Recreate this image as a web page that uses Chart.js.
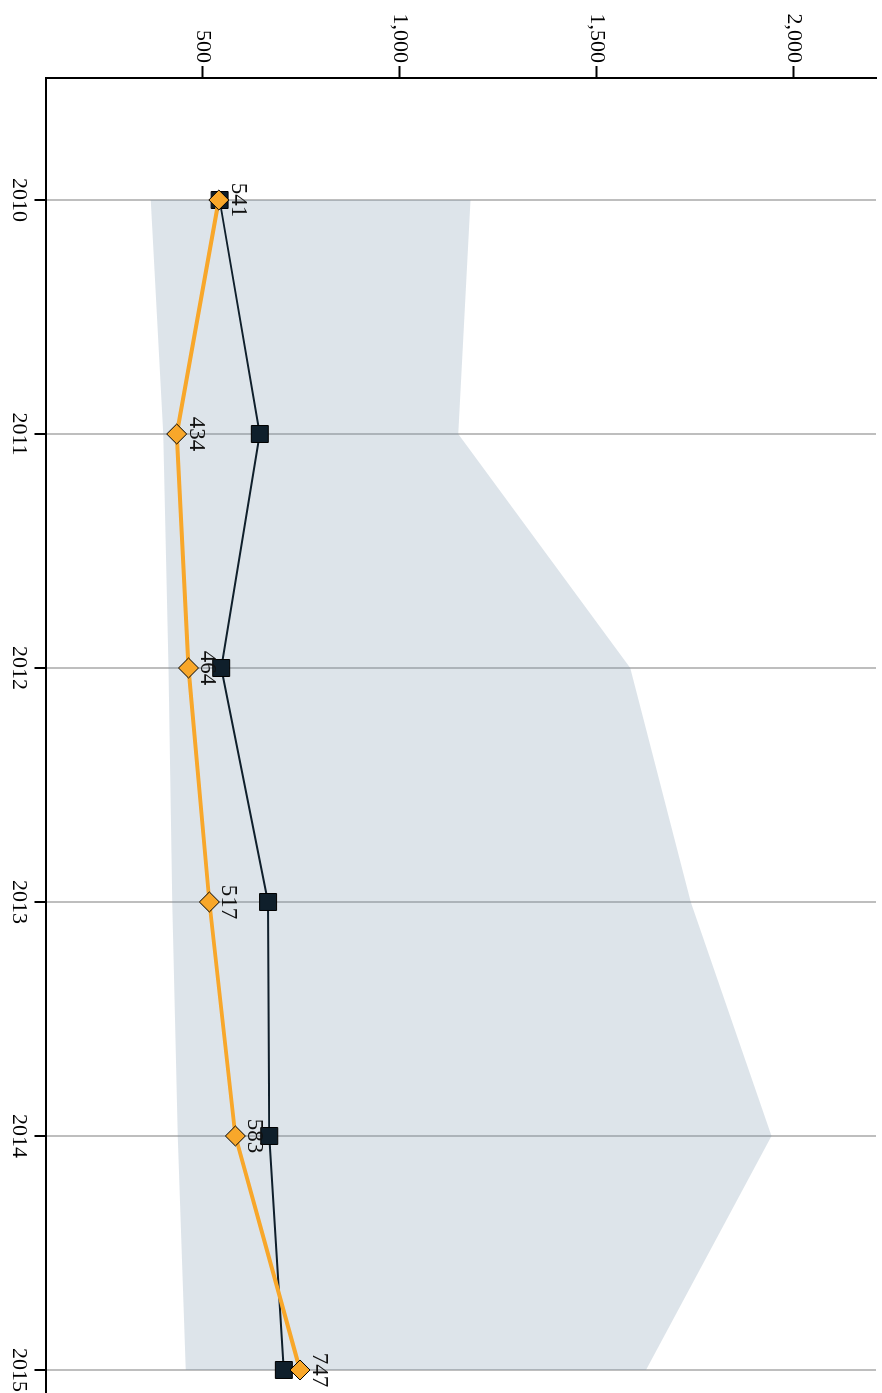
<!DOCTYPE html>
<html>
<head>
<meta charset="utf-8">
<script src="https://cdn.jsdelivr.net/npm/chart.js@4/dist/chart.umd.min.js"></script>
<style>
  html, body { margin: 0; padding: 0; background: #fff; overflow: hidden; }
  #wrap { position: relative; width: 882px; height: 1393px; overflow: hidden; }
  /* chart is drawn landscape and turned a quarter clockwise */
  #chart { position: absolute; left: 0; top: 0; transform-origin: 0 0; transform: translate(920px, 0) rotate(90deg); }
</style>
</head>
<body>
<div id="wrap"><canvas id="chart" width="1460" height="920"></canvas></div>
<script>
const years = [2010, 2011, 2012, 2013, 2014, 2015];
const observed = [541, 434, 464, 517, 583, 747];
const predicted = [543, 645, 547, 666, 669, 706];
const rangeLow = [368, 400, 413, 423, 437, 457];
const rangeHigh = [1180, 1149, 1585, 1739, 1944, 1625];
const valueTicks = [500, 1000, 1500, 2000];

const toXY = vals => years.map((yr, i) => ({ x: yr, y: vals[i] }));

const orange = '#f8a72a';
const navy = '#0f1f2b';

Chart.defaults.font.family = '"Liberation Serif", "Times New Roman", serif';
Chart.defaults.font.size = 22;
Chart.defaults.color = '#000';

// value labels next to the orange points
const pointLabels = {
  id: 'pointLabels',
  afterDatasetsDraw(chart) {
    const meta = chart.getDatasetMeta(3);
    const ctx = chart.ctx;
    ctx.save();
    ctx.font = '23px "Liberation Serif", serif';
    ctx.fillStyle = '#111';
    ctx.textAlign = 'center';
    ctx.textBaseline = 'alphabetic';
    meta.data.forEach((pt, i) => ctx.fillText(String(observed[i]), pt.x, pt.y - 13));
    ctx.restore();
  }
};

new Chart(document.getElementById('chart'), {
  type: 'line',
  data: {
    datasets: [
      {
        data: toXY(rangeLow),
        borderWidth: 0,
        pointRadius: 0,
        fill: false,
        order: 4
      },
      {
        data: toXY(rangeHigh),
        borderWidth: 0,
        pointRadius: 0,
        fill: '-1',
        backgroundColor: 'rgba(119,147,171,0.25)',
        order: 3
      },
      {
        data: toXY(predicted),
        borderColor: navy,
        borderWidth: 2,
        pointStyle: 'rect',
        pointRadius: 12,
        pointBackgroundColor: navy,
        pointBorderColor: '#000',
        pointBorderWidth: 1,
        fill: false,
        order: 2
      },
      {
        data: toXY(observed),
        borderColor: orange,
        borderWidth: 4,
        pointStyle: 'rectRot',
        pointRadius: 10,
        pointBackgroundColor: orange,
        pointBorderColor: '#000',
        pointBorderWidth: 1,
        fill: false,
        order: 1
      }
    ]
  },
  options: {
    responsive: false,
    devicePixelRatio: 1,
    animation: false,
    locale: 'en-US',
    layout: { padding: { top: 44, right: 40, left: 0, bottom: 0 } },
    elements: { line: { tension: 0 } },
    plugins: {
      legend: { display: false },
      tooltip: { enabled: false }
    },
    scales: {
      x: {
        type: 'linear',
        min: 2009.4786,
        max: 2015.2137,
        afterBuildTicks: s => { s.ticks = years.map(v => ({ value: v })); },
        afterFit: s => { s.height = 46.5; },
        ticks: { callback: v => String(v), padding: 3, color: '#000' },
        grid: { color: '#bebebe', lineWidth: 2, tickColor: '#000', tickWidth: 2, tickLength: 12 },
        border: { color: '#000', width: 2 }
      },
      y: {
        type: 'linear',
        min: 103.6,
        max: 2209,
        afterBuildTicks: s => { s.ticks = valueTicks.map(v => ({ value: v })); },
        afterFit: s => { s.width = 78; },
        ticks: { padding: 3, color: '#000' },
        grid: { drawOnChartArea: false, tickColor: '#000', tickWidth: 2, tickLength: 12 },
        border: { color: '#000', width: 2 }
      }
    }
  },
  plugins: [pointLabels]
});
</script>
</body>
</html>
